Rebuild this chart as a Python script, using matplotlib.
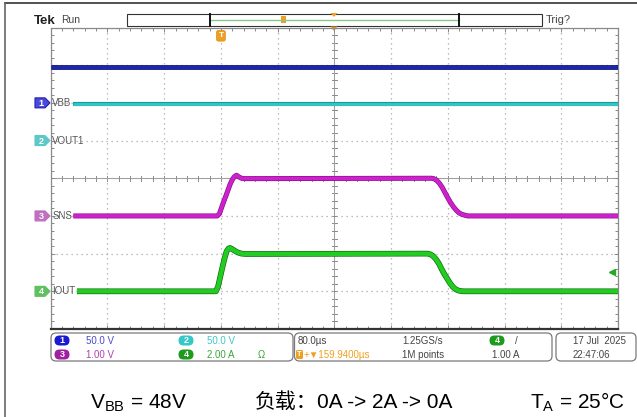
import numpy as np
import matplotlib.pyplot as plt
from matplotlib.patches import FancyBboxPatch, Rectangle, Polygon

plt.rcParams['font.family'] = ['Liberation Sans', 'DejaVu Sans']
plt.rcParams['mathtext.fontset'] = 'custom'
plt.rcParams['mathtext.rm'] = 'Liberation Sans'

W, H = 637, 417

# scope settings
time_per_div = 80.0   # us/div
trig_pos = -159.94    # us
trig_level = 1.00     # A (ch4)
ch_scale = {1: 50.0, 2: 50.0, 3: 1.00, 4: 2.00}
ch_offset = {1: 2.0, 2: 1.0, 3: -1.0, 4: -3.0}   # divisions
ch_name = {1: 'VBB', 2: 'VOUT1', 3: 'SNS', 4: 'IOUT'}

# waveforms: time in us, values in channel units
vbb_t = [-400, 400]
vbb_v = [48.0, 48.0]

vout_t = [-368, 400]
vout_v = [49.0, 49.0]

sns_t = [-368, -165, -162, -157, -152, -147, -144, -141, -138, -135, -131, -126,
         137, 140, 144, 148, 152, 156, 160, 164, 168, 172, 176, 180, 184, 188, 400]
sns_v = [0.0, 0.0, 0.06, 0.33, 0.58, 0.84, 0.96, 1.04, 1.08, 1.04, 1.0, 0.99,
         1.0, 0.99, 0.95, 0.87, 0.76, 0.62, 0.48, 0.35, 0.24, 0.15, 0.08, 0.04, 0.02, 0.0, 0.0]

iout_t = [-363, -167, -164, -161, -158, -155, -152, -149, -147, -144, -140, -136, -131, -125,
          131, 135, 139, 143, 147, 151, 155, 159, 163, 167, 171, 175, 179, 183, 188, 400]
iout_v = [0.0, 0.0, 0.25, 0.75, 1.25, 1.72, 2.12, 2.28, 2.3, 2.24, 2.14, 2.06, 2.0, 1.98,
          2.0, 1.97, 1.88, 1.72, 1.5, 1.2, 0.92, 0.68, 0.44, 0.24, 0.11, 0.04, 0.01, 0.0, 0.0, 0.0]

# graticule box in pixels
L, R, T, B = 50.7, 618.0, 27.5, 329.0

fig = plt.figure(figsize=(W / 100, H / 100), dpi=100)
bg = fig.add_axes([0, 0, 1, 1])
bg.set_xlim(0, W)
bg.set_ylim(H, 0)
bg.axis('off')

ax = fig.add_axes([L / W, 1 - B / H, (R - L) / W, (B - T) / H])
ax.set_facecolor('none')
ax.set_xlim(-5 * time_per_div, 5 * time_per_div)
ax.set_ylim(-4, 4)
ax.set_xticks(np.arange(-400, 401, 80))
ax.set_yticks(np.arange(-4, 5, 1))
ax.set_xticks(np.arange(-400, 401, 16), minor=True)
ax.set_yticks(np.arange(-4, 4.01, 0.2), minor=True)
ax.tick_params(which='both', direction='in', top=True, right=True,
               labelbottom=False, labelleft=False, color='#888888', width=0.7)
ax.tick_params(which='major', length=3)
ax.tick_params(which='minor', length=2.5)
ax.grid(which='major', color='#a8a8a8', linestyle=(0, (1, 3)), lw=0.9)
for s in ax.spines.values():
    s.set_color('#8a8a8a')
    s.set_linewidth(0.9)
ax.spines['bottom'].set_color('#333333')
ax.spines['bottom'].set_linewidth(1.6)

# center cross with ticks
ax.axhline(0, color='#9a9a9a', lw=0.7, zorder=1)
ax.axvline(0, color='#9a9a9a', lw=0.7, zorder=1)
for yy in np.arange(-4, 4.01, 0.2):
    ax.plot([-4, 4], [yy, yy], color='#8a8a8a', lw=0.7, zorder=1)
for xx in np.arange(-400, 401, 16):
    ax.plot([xx, xx], [-0.07, 0.07], color='#8a8a8a', lw=0.7, zorder=1)


def trace(t, v, ch, color, edge, lw):
    y = np.array(v) / ch_scale[ch] + ch_offset[ch]
    ax.plot(t, y, color=edge, lw=lw + 0.9, solid_capstyle='butt', zorder=3)
    ax.plot(t, y, color=color, lw=lw, solid_capstyle='butt', zorder=4)


trace(vbb_t, vbb_v, 1, '#1c28a8', '#0c0c78', 2.5)
trace(vout_t, vout_v, 2, '#30c6c6', '#1c9a9a', 2.1)
trace(sns_t, sns_v, 3, '#cc22cc', '#8a0a8a', 2.7)
trace(iout_t, iout_v, 4, '#22cc22', '#0c640c', 3.2)

# trigger level arrow (ch4)
ax.plot([392], [trig_level / ch_scale[4] + ch_offset[4]], marker='<', color='#22aa22',
        ms=4.5, clip_on=False, zorder=5)
# trigger position marker
ax.text(trig_pos, 3.78, 'T', color='white', fontsize=6, fontweight='bold',
        ha='center', va='center', zorder=6,
        bbox=dict(boxstyle='round,pad=0.22', fc='#f0a020', ec='#e08a10', lw=0.5))


def div_px(d):
    return (T + B) / 2 - d * (B - T) / 8


# channel markers and labels
mk = {1: ('#4a4ad8', '#2020b0'), 2: ('#5cc8c8', '#5cc8c8'),
      3: ('#c070c0', '#c070c0'), 4: ('#60c060', '#60c060')}
for ch in (1, 2, 3, 4):
    yp = div_px(ch_offset[ch])
    fc, ec = mk[ch]
    bg.add_patch(Polygon([(35, yp - 5), (45, yp - 5), (50, yp), (45, yp + 5), (35, yp + 5)],
                         closed=True, fc=fc, ec=ec, lw=0.8, zorder=2))
    bg.text(41, yp + 0.5, str(ch), color='white', fontsize=6.5, ha='center', va='center',
            fontweight='bold', zorder=3)
    ax.text(0.003, ch_offset[ch], ch_name[ch], transform=ax.get_yaxis_transform(),
            color='#555555', fontsize=7, ha='left', va='center', zorder=5)

# outer frame
bg.plot([5, W], [3.3, 3.3], color='#333333', lw=1.2)
bg.plot([5, 5], [3.3, H], color='#666666', lw=1.2)

# top status bar
bg.text(34, 20.5, 'Tek', fontsize=9.5, fontweight='bold', color='#222222', va='center')
bg.text(61, 20, 'Run', fontsize=7.5, color='#444444', va='center')
bg.add_patch(Rectangle((127, 14), 415, 12, fc='white', ec='#333333', lw=0.8))
bg.plot([210, 459], [19.8, 19.8], color='#88c888', lw=1.0)
bg.plot([210, 210], [14, 26], color='#111111', lw=1.4)
bg.plot([459, 459], [14, 26], color='#111111', lw=1.4)
bg.add_patch(Rectangle((280.5, 16), 5, 7, fc='#f0a020', ec='none'))
bg.add_patch(Polygon([(330.5, 13), (337.5, 13), (334, 17)], closed=True, fc='#f0a020', ec='none'))
bg.add_patch(Polygon([(330.5, 26.5), (337.5, 26.5), (334, 31)], closed=True, fc='#f0a020', ec='none'))
bg.text(546, 20, 'Trig?', fontsize=8, color='#444444', va='center')

# bottom info panels
for x0, x1 in ((51, 293), (294.5, 552), (556, 636)):
    bg.add_patch(FancyBboxPatch((x0, 333), x1 - x0, 28,
                                boxstyle='round,pad=0,rounding_size=5',
                                fc='white', ec='#7a7a7a', lw=0.9))


def pill(x, y, s, c):
    bg.add_patch(FancyBboxPatch((x - 7.5, y - 5), 15, 10,
                                boxstyle='round,pad=0,rounding_size=5', fc=c, ec='none'))
    bg.text(x, y + 0.3, s, color='white', fontsize=6.5, ha='center', va='center', fontweight='bold')


r1, r2 = 340.5, 354.5
pill(62, r1, '1', '#1a1ad0')
pill(62, r2, '3', '#a020a0')
pill(186, r1, '2', '#36c8c8')
pill(186, r2, '4', '#1e9a1e')
fs = 7
bg.text(86, r1, '50.0 V', color='#4a4acc', fontsize=fs, va='center')
bg.text(86, r2, '1.00 V', color='#b040b0', fontsize=fs, va='center')
bg.text(207, r1, '50.0 V', color='#40c8c8', fontsize=fs, va='center')
bg.text(207, r2, '2.00 A', color='#3aa63a', fontsize=fs, va='center')
bg.text(258, r2, 'Ω', color='#3aa63a', fontsize=fs, va='center')

bg.text(298, r1, '80.0µs', color='#444444', fontsize=fs, va='center')
bg.add_patch(FancyBboxPatch((296, r2 - 4.5), 7, 9, boxstyle='round,pad=0,rounding_size=1.5',
                            fc='#f0a020', ec='none'))
bg.text(299.5, r2 + 0.3, 'T', color='white', fontsize=5.5, ha='center', va='center', fontweight='bold')
bg.text(304, r2, '+▼159.9400µs', color='#f0a020', fontsize=fs, va='center')
bg.text(402, r1, '1.25GS/s', color='#444444', fontsize=fs, va='center')
bg.text(402, r2, '1M points', color='#444444', fontsize=fs, va='center')
pill(497, r1, '4', '#1e9a1e')
bg.text(515, r1, '/', color='#444444', fontsize=fs, va='center')
bg.text(492, r2, '1.00 A', color='#444444', fontsize=fs, va='center')
bg.text(573, r1, '17 Jul  2025', color='#444444', fontsize=fs, va='center')
bg.text(573, r2, '22:47:06', color='#444444', fontsize=fs, va='center')

# caption
yb = 408
bg.text(90, yb, r'V$_{\mathrm{BB}}$ = 48V', fontsize=15, va='baseline', color='black')
bg.text(255, yb, '负载：', fontsize=15, va='baseline', color='black',
        family=['Noto Sans CJK SC', 'DejaVu Sans'])
bg.text(317, yb, '0A -> 2A -> 0A', fontsize=15, va='baseline', color='black')
bg.text(530, yb, r'T$_{\mathrm{A}}$ = 25°C', fontsize=15, va='baseline', color='black')

fig.savefig('out.png', dpi=100)
